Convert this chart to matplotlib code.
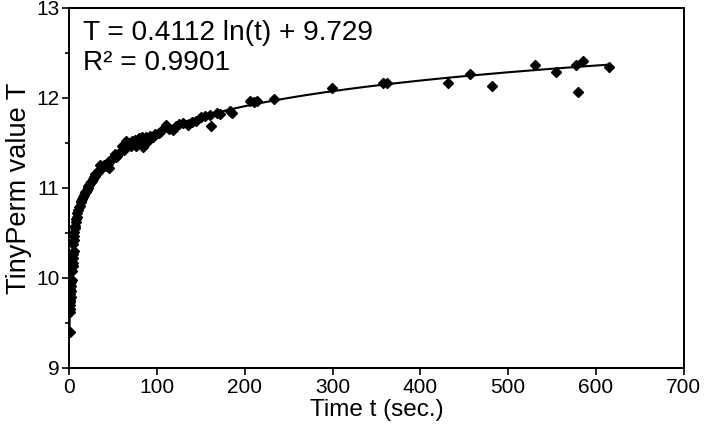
import numpy as np
import matplotlib
matplotlib.use("Agg")
import matplotlib.pyplot as plt
from matplotlib.ticker import MultipleLocator

plt.rcParams['font.family'] = ['Liberation Sans', 'DejaVu Sans']

t_sec = [0.5, 0.8, 1.0, 1.2, 1.5, 1.0, 1.8, 1.3, 2.0, 1.6, 2.5, 2.0, 2.8, 3.0,
         4.0, 4.5, 5.0, 4.2, 5.5, 5.0, 6.0, 5.5, 6.0, 6.5, 7.0, 7.5, 8.0, 9.0,
         9.5, 10.5, 11.0, 12.0, 13.0, 14.0, 15.0, 16.0, 17.0, 18.0, 19.0, 20.0,
         21.0, 22.0, 23.0, 24.0, 25.0, 26.0, 27.0, 28.0, 29.0, 30.0, 31.0, 33.0,
         34.0, 35.0, 36.0, 38.0, 40.0, 42.0, 44.0, 45.0, 46.0, 48.0, 50.0, 52.0,
         53.0, 55.0, 58.0, 60.0, 62.0, 63.0, 65.0, 66.0, 68.0, 70.0, 72.0, 75.0,
         76.0, 78.0, 80.0, 83.0, 84.0, 88.0, 90.0, 92.0, 95.0, 98.0, 102.0, 105.0,
         110.0, 114.0, 118.0, 122.0, 125.0, 130.0, 135.0, 140.0, 145.0, 150.0,
         155.0, 160.0, 162.0, 168.0, 172.0, 183.0, 186.0, 206.0, 210.0, 214.0,
         233.0, 299.0, 358.0, 362.0, 432.0, 456.0, 481.0, 530.0, 554.0, 577.0,
         585.0, 579.0, 615.0]
T_val = [9.40, 9.62, 9.66, 9.70, 9.73, 9.76, 9.79, 9.82, 9.85, 9.88, 9.91, 9.95,
         9.98, 10.08, 10.13, 10.17, 10.22, 10.27, 10.30, 10.38, 10.42, 10.47, 10.51,
         10.55, 10.58, 10.62, 10.65, 10.68, 10.72, 10.75, 10.79, 10.80, 10.84, 10.86,
         10.88, 10.90, 10.92, 10.95, 10.96, 10.98, 11.00, 11.02, 11.03, 11.05, 11.07,
         11.08, 11.10, 11.12, 11.13, 11.15, 11.16, 11.18, 11.20, 11.25, 11.21, 11.23,
         11.25, 11.24, 11.27, 11.22, 11.30, 11.31, 11.33, 11.38, 11.34, 11.36, 11.40,
         11.47, 11.42, 11.45, 11.52, 11.48, 11.50, 11.47, 11.52, 11.53, 11.47, 11.50,
         11.55, 11.56, 11.45, 11.57, 11.52, 11.58, 11.56, 11.60, 11.61, 11.63, 11.70,
         11.65, 11.64, 11.69, 11.71, 11.72, 11.70, 11.73, 11.74, 11.79, 11.80, 11.81,
         11.69, 11.83, 11.82, 11.85, 11.83, 11.96, 11.95, 11.97, 11.99, 12.11, 12.17,
         12.17, 12.17, 12.27, 12.13, 12.36, 12.29, 12.36, 12.41, 12.07, 12.34]

# logarithmic fit shown on the chart
fit_a = 0.4112
fit_b = 9.729

fig = plt.figure(figsize=(7.05, 4.36), dpi=100)
ax = fig.add_axes([0.098, 0.156, 0.872, 0.826])

tt = np.linspace(0.4, 615, 2000)
ax.plot(tt, fit_a * np.log(tt) + fit_b, color='black', lw=1.5, zorder=2)
ax.plot(t_sec, T_val, linestyle='none', marker='D', ms=5.5, color='black', zorder=3)

ax.set_xlim(0, 700)
ax.set_ylim(9, 13)
ax.xaxis.set_major_locator(MultipleLocator(100))
ax.yaxis.set_major_locator(MultipleLocator(1))
ax.yaxis.set_minor_locator(MultipleLocator(0.5))
ax.tick_params(axis='both', which='major', direction='out', length=5, width=1.2,
               labelsize=15, colors='black', pad=2)
ax.tick_params(axis='y', which='minor', direction='out', length=3, width=1.2)
for s in ax.spines.values():
    s.set_linewidth(1.4)

ax.set_xlabel("Time t (sec.)", fontsize=17.5, labelpad=2)
ax.set_ylabel("TinyPerm value T", fontsize=19.5, labelpad=3)

ax.text(0.022, 0.965, "T = 0.4112 ln(t) + 9.729\nR\u00b2 = 0.9901", transform=ax.transAxes,
        fontsize=20.2, va='top', ha='left', linespacing=1.2)

fig.savefig("out.png", dpi=100)
